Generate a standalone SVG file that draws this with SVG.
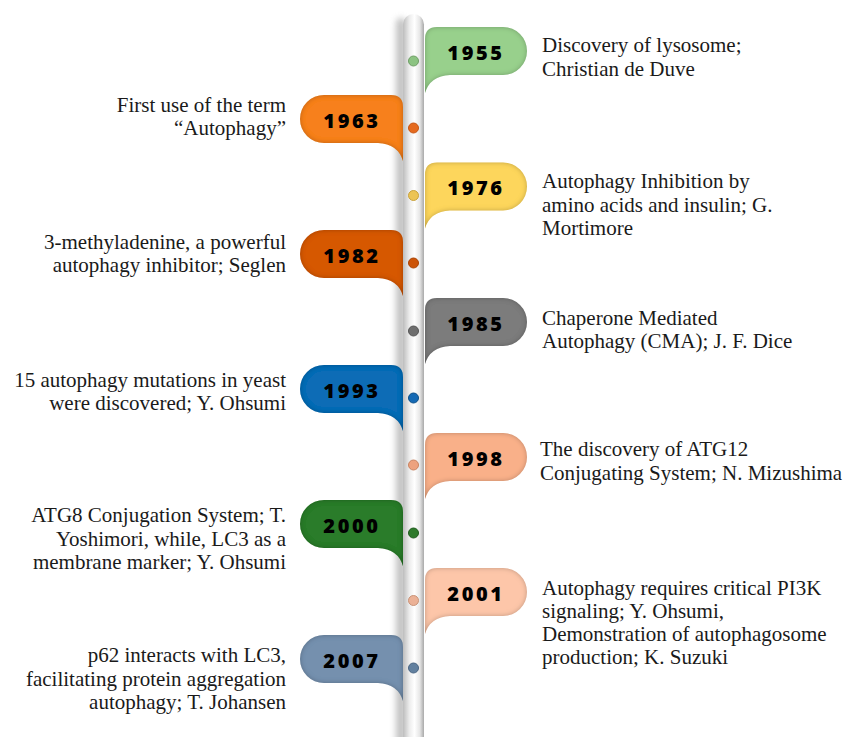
<svg xmlns="http://www.w3.org/2000/svg" width="846" height="737" viewBox="0 0 846 737">
<style>
.yr{font-family:"Open Sans","DejaVu Sans",sans-serif;font-weight:800;font-size:20px;letter-spacing:2.6px;fill:#000;text-anchor:middle}
.d{font-family:"Liberation Serif","Times New Roman",serif;font-size:21px;fill:#1a1a1a}
.l{text-anchor:end}
.dot{stroke-width:1}
</style>
<defs>
<linearGradient id="barg" x1="0" y1="0" x2="1" y2="0">
<stop offset="0" stop-color="#bdbdbd"/>
<stop offset="0.3" stop-color="#ececec"/>
<stop offset="0.55" stop-color="#ffffff"/>
<stop offset="0.8" stop-color="#e6e6e6"/>
<stop offset="1" stop-color="#a9a9a9"/>
</linearGradient>
<filter id="blur" x="-1" y="-0.1" width="3" height="1.2"><feGaussianBlur stdDeviation="3"/></filter>
<filter id="inner" x="-10%" y="-10%" width="120%" height="130%">
<feFlood flood-color="#000" flood-opacity="0.5"/>
<feComposite in2="SourceAlpha" operator="out"/>
<feGaussianBlur stdDeviation="2.5"/>
<feOffset dy="-0.5"/>
<feComposite in2="SourceAlpha" operator="in" result="sh"/>
<feMerge><feMergeNode in="SourceGraphic"/><feMergeNode in="sh"/></feMerge>
</filter>
<path id="tr" d="M425,12 Q425,0 437,0 L503,0 A24,24 0 0 1 503,48 L450,48 Q430,49 425,66 Z"/>
<path id="tl" d="M403,12 Q403,0 391,0 L324,0 A24,24 0 0 0 324,48 L378,48 Q398,49 403,66 Z"/>
</defs>
<rect width="846" height="737" fill="#fff"/>
<g id="timeline">
<rect x="396" y="18" width="10" height="730" rx="5" fill="#9a9a9a" opacity="0.6" filter="url(#blur)"/>
<rect x="403" y="14" width="21" height="740" rx="10.5" fill="url(#barg)"/>
</g>
<g id="connectors"></g>
<g id="n1955">
<use href="#tr" transform="translate(0,27)" fill="#98d08c" filter="url(#inner)"/>
<text class="yr" x="476" y="59.5">1955</text>
<circle class="dot" cx="413.5" cy="61" r="5" fill="#8cc382" stroke="#6f9e66"/>
<text class="d" x="542" y="52">Discovery of lysosome;</text>
<text class="d" x="542" y="75.5">Christian de Duve</text>
</g>
<g id="n1963">
<use href="#tl" transform="translate(0,95)" fill="#f7801e" filter="url(#inner)"/>
<text class="yr" x="352" y="127.5">1963</text>
<circle class="dot" cx="413.5" cy="128" r="5" fill="#e56a1e" stroke="#c65614"/>
<text class="d l" x="286" y="112">First use of the term</text>
<text class="d l" x="286" y="135">“Autophagy”</text>
</g>
<g id="n1976">
<use href="#tr" transform="translate(0,162.5)" fill="#fdd65b" filter="url(#inner)"/>
<text class="yr" x="476" y="195">1976</text>
<circle class="dot" cx="413.5" cy="195.5" r="5" fill="#ecc455" stroke="#c9a23c"/>
<text class="d" x="542" y="188">Autophagy Inhibition by</text>
<text class="d" x="542" y="211.5">amino acids and insulin; G.</text>
<text class="d" x="542" y="235">Mortimore</text>
</g>
<g id="n1982">
<use href="#tl" transform="translate(0,230)" fill="#d65806" filter="url(#inner)"/>
<text class="yr" x="352" y="262.5">1982</text>
<circle class="dot" cx="413.5" cy="263" r="5" fill="#cc5408" stroke="#a94304"/>
<text class="d l" x="286" y="249">3-methyladenine, a powerful</text>
<text class="d l" x="286" y="272">autophagy inhibitor; Seglen</text>
</g>
<g id="n1985">
<use href="#tr" transform="translate(0,298)" fill="#7b7b7b" filter="url(#inner)"/>
<text class="yr" x="476" y="330.5">1985</text>
<circle class="dot" cx="413.5" cy="331" r="5" fill="#6e6e6e" stroke="#555"/>
<text class="d" x="542" y="325">Chaperone Mediated</text>
<text class="d" x="542" y="348">Autophagy (CMA); J. F. Dice</text>
</g>
<g id="n1993">
<use href="#tl" transform="translate(0,365)" fill="#0f6cb6" filter="url(#inner)"/>
<text class="yr" x="352" y="397.5">1993</text>
<circle class="dot" cx="413.5" cy="398" r="5" fill="#1469b4" stroke="#0c4f88"/>
<text class="d l" x="286" y="387">15 autophagy mutations in yeast</text>
<text class="d l" x="286" y="410">were discovered; Y. Ohsumi</text>
</g>
<g id="n1998">
<use href="#tr" transform="translate(0,433)" fill="#f9b089" filter="url(#inner)"/>
<text class="yr" x="476" y="465.5">1998</text>
<circle class="dot" cx="413.5" cy="465" r="5" fill="#eda27e" stroke="#c98462"/>
<text class="d" x="540" y="456">The discovery of ATG12</text>
<text class="d" x="540" y="480">Conjugating System; N. Mizushima</text>
</g>
<g id="n2000">
<use href="#tl" transform="translate(0,500)" fill="#2c7c2a" filter="url(#inner)"/>
<text class="yr" x="352" y="532.5">2000</text>
<circle class="dot" cx="413.5" cy="533" r="5" fill="#2e7a2b" stroke="#1f5a1d"/>
<text class="d l" x="286" y="522">ATG8 Conjugation System; T.</text>
<text class="d l" x="286" y="545.5">Yoshimori, while, LC3 as a</text>
<text class="d l" x="286" y="569">membrane marker; Y. Ohsumi</text>
</g>
<g id="n2001">
<use href="#tr" transform="translate(0,568)" fill="#fdc6a9" filter="url(#inner)"/>
<text class="yr" x="476" y="600.5">2001</text>
<circle class="dot" cx="413.5" cy="600.5" r="5" fill="#ebb196" stroke="#c99378"/>
<text class="d" x="542" y="595">Autophagy requires critical PI3K</text>
<text class="d" x="542" y="618">signaling; Y. Ohsumi,</text>
<text class="d" x="542" y="641">Demonstration of autophagosome</text>
<text class="d" x="542" y="664">production; K. Suzuki</text>
</g>
<g id="n2007">
<use href="#tl" transform="translate(0,635)" fill="#7590ae" filter="url(#inner)"/>
<text class="yr" x="352" y="667.5">2007</text>
<circle class="dot" cx="413.5" cy="668" r="5" fill="#62809f" stroke="#4a6583"/>
<text class="d l" x="286" y="662">p62 interacts with LC3,</text>
<text class="d l" x="286" y="685.5">facilitating protein aggregation</text>
<text class="d l" x="286" y="709">autophagy; T. Johansen</text>
</g>
</svg>
